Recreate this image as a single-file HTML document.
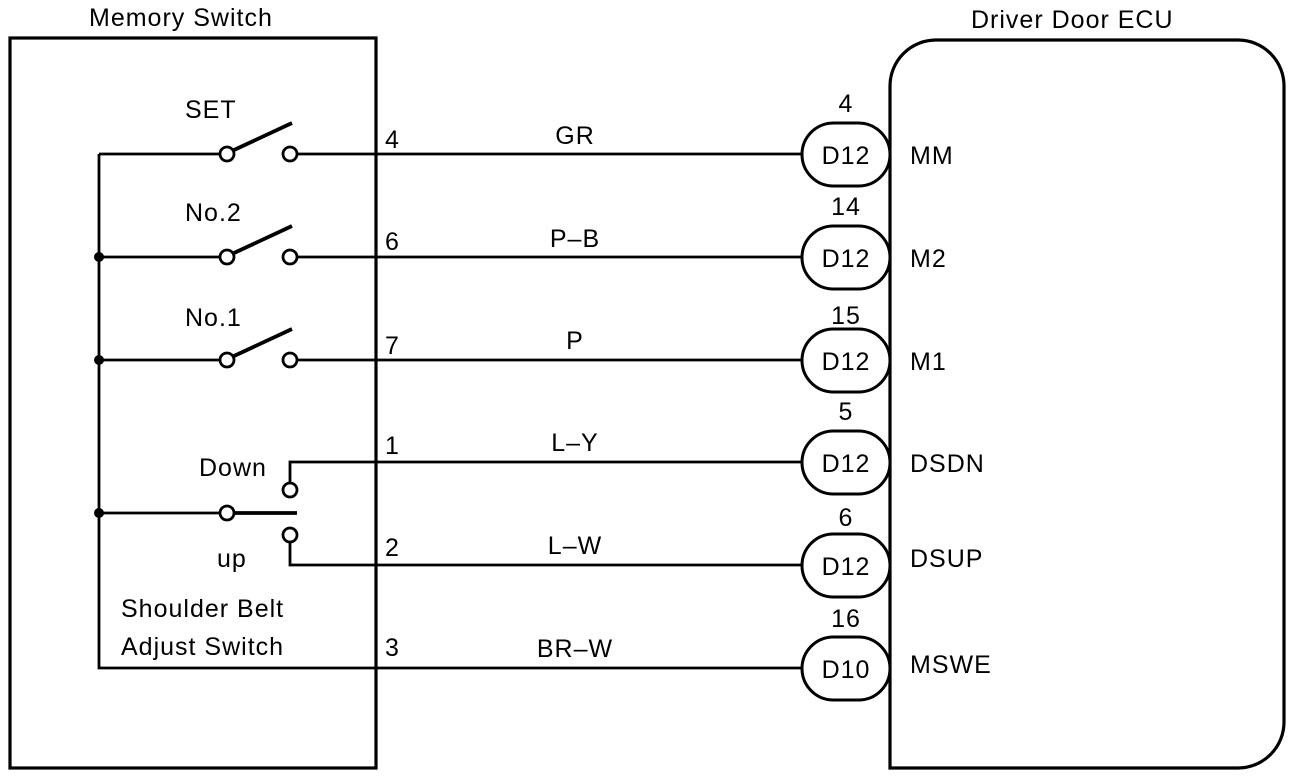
<!DOCTYPE html>
<html><head><style>body{margin:0;background:#fff}svg{display:block}text{font-family:"Liberation Sans",sans-serif;font-size:25px;letter-spacing:1px;fill:#000}</style></head>
<body>
<svg width="1312" height="776" viewBox="0 0 1312 776">
<g stroke="#000" fill="none" stroke-width="2.8">
<rect x="10" y="38" width="366" height="730" stroke-width="3.2"/>
<path d="M890 768 V86 A46 46 0 0 1 936 40 H1238 A46 46 0 0 1 1284 86 V722 A46 46 0 0 1 1238 768 Z" stroke-width="3.2"/>
<path d="M99 154 V668 H802"/>
<path d="M99 154 H220 M99 257 H220 M99 360 H220 M99 513 H220"/>
<path d="M297 154 H802 M297 257 H802 M297 360 H802"/>
<path d="M290 483 V462 H802 M290 542 V565 H802"/>
<path d="M234 150 L292 123 M234 253 L292 226 M234 356 L292 329 M234 513 H297" stroke-width="3.8"/>
<g fill="#fff">
<circle cx="227" cy="154" r="7"/><circle cx="290" cy="154" r="7"/>
<circle cx="227" cy="257" r="7"/><circle cx="290" cy="257" r="7"/>
<circle cx="227" cy="360" r="7"/><circle cx="290" cy="360" r="7"/>
<circle cx="227" cy="513" r="7"/><circle cx="290" cy="490" r="7"/><circle cx="290" cy="535" r="7"/>
<rect x="802" y="123" width="88" height="63" rx="31.5" stroke-width="3"/>
<rect x="802" y="226" width="88" height="63" rx="31.5" stroke-width="3"/>
<rect x="802" y="329" width="88" height="63" rx="31.5" stroke-width="3"/>
<rect x="802" y="431" width="88" height="63" rx="31.5" stroke-width="3"/>
<rect x="802" y="534" width="88" height="63" rx="31.5" stroke-width="3"/>
<rect x="802" y="637" width="88" height="63" rx="31.5" stroke-width="3"/>
</g>
</g>
<g fill="#000"><circle cx="99" cy="257" r="5"/><circle cx="99" cy="360" r="5"/><circle cx="99" cy="513" r="5"/></g>
<text x="89" y="26">Memory Switch</text>
<text x="971" y="28">Driver Door ECU</text>
<text x="185" y="118">SET</text>
<text x="185" y="221">No.2</text>
<text x="185" y="326">No.1</text>
<text x="199" y="476">Down</text>
<text x="217" y="567">up</text>
<text x="121" y="617">Shoulder Belt</text>
<text x="121" y="655">Adjust Switch</text>
<g>
<text x="385" y="148">4</text><text x="385" y="250">6</text><text x="385" y="354">7</text>
<text x="385" y="454">1</text><text x="385" y="556">2</text><text x="385" y="656">3</text>
</g>
<g text-anchor="middle">
<text x="575" y="144">GR</text><text x="575" y="247">P–B</text><text x="575" y="349">P</text>
<text x="575" y="451">L–Y</text><text x="575" y="554">L–W</text><text x="575" y="657">BR–W</text>
<text x="846" y="112">4</text><text x="846" y="215">14</text><text x="846" y="324">15</text>
<text x="846" y="420">5</text><text x="846" y="526">6</text><text x="846" y="627">16</text>
<text x="846" y="164">D12</text><text x="846" y="267">D12</text><text x="846" y="370">D12</text>
<text x="846" y="472">D12</text><text x="846" y="575">D12</text><text x="846" y="678">D10</text>
</g>
<text x="910" y="164">MM</text><text x="910" y="267">M2</text><text x="910" y="370">M1</text>
<text x="910" y="472">DSDN</text><text x="910" y="567">DSUP</text><text x="910" y="673">MSWE</text>
</svg>
</body></html>
